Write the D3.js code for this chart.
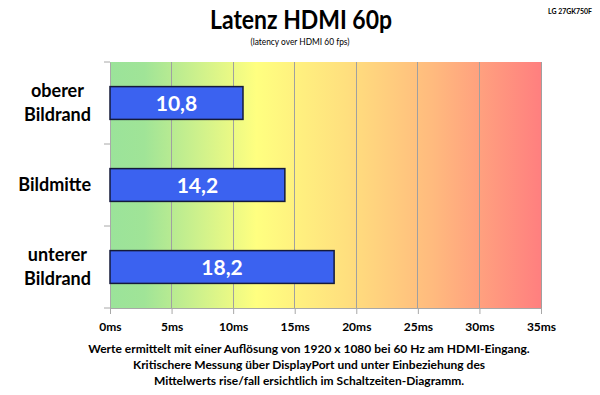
<!DOCTYPE html>
<html><head><meta charset="utf-8">
<script src="https://cdn.jsdelivr.net/npm/d3@7"></script>
<style>body{margin:0;background:#fff}text{font-family:Lato,"Open Sans",sans-serif;font-weight:bold}</style>
</head><body>
<svg id="c" width="600" height="395"></svg>
<script>
const categories = [["oberer","Bildrand"],["Bildmitte"],["unterer","Bildrand"]];
const values = [10.8, 14.2, 18.2];
const valueLabels = ["10,8","14,2","18,2"];
const xTicks = [0,5,10,15,20,25,30,35];
const title = "Latenz HDMI 60p";
const subtitle = "(latency over HDMI 60  fps)";
const model = "LG 27GK750F";
const notes = ["Werte ermittelt mit einer Auflösung von 1920 x 1080 bei 60 Hz am HDMI-Eingang.",
  "Kritischere Messung über DisplayPort und unter Einbeziehung des",
  "Mittelwerts rise/fall ersichtlich im Schaltzeiten-Diagramm."];

const svg = d3.select("#c");
const L=110, R=541, T=62, B=308;
const x = d3.scaleLinear().domain([0,35]).range([L,R]);
const y = d3.scaleBand().domain(d3.range(categories.length)).range([T,B]).paddingInner(0.6).paddingOuter(0.3);
const yb = d3.scaleBand().domain(d3.range(categories.length)).range([T,B]);

const defs = svg.append("defs");
const g = defs.append("linearGradient").attr("id","bg").attr("x1","0").attr("x2","1").attr("y1","0").attr("y2","0");
[[0,"#9be39a"],[0.08,"#a0e497"],[0.34,"#ffff80"],[0.55,"#ffdf7e"],[0.75,"#ffba7e"],[1,"#ff7f7f"]]
 .forEach(([o,c])=>g.append("stop").attr("offset",o).attr("stop-color",c));

svg.append("rect").attr("x",L).attr("y",T).attr("width",R-L).attr("height",B-T).attr("fill","url(#bg)");

// grid
svg.append("g").selectAll("line").data(xTicks.slice(1)).join("line")
  .attr("x1",d=>x(d)).attr("x2",d=>x(d)).attr("y1",T).attr("y2",B)
  .attr("stroke","#a0a0a0").attr("stroke-width",1).attr("shape-rendering","crispEdges");

// x axis
const xa = svg.append("g").attr("transform",`translate(0,${B})`)
  .call(d3.axisBottom(x).tickValues(xTicks).tickFormat(d=>d+"ms").tickSize(6).tickPadding(8));
xa.select(".domain").attr("stroke","#a8a8a8");
xa.selectAll(".tick line").attr("stroke","#a8a8a8");
xa.selectAll("text").attr("font-size",12).attr("fill","#000").style("font-family","Lato").style("font-weight","bold");

// y axis
const ya = svg.append("g").attr("transform",`translate(${L},0)`)
  .call(d3.axisLeft(yb).tickValues([]).tickSize(0));
ya.select(".domain").attr("stroke","#a8a8a8");
svg.append("g").selectAll("line").data([T, ...yb.domain().map(i=>yb(i)+yb.bandwidth())]).join("line")
  .attr("x1",L-6).attr("x2",L).attr("y1",d=>d).attr("y2",d=>d).attr("stroke","#a8a8a8");

// bars
svg.append("g").selectAll("rect").data(values).join("rect")
  .attr("x",x(0)).attr("y",(d,i)=>y(i)).attr("width",d=>x(d)-x(0)).attr("height",y.bandwidth())
  .attr("fill","#3b62f0").attr("stroke","#141a3a").attr("stroke-width",1.5);

svg.append("g").selectAll("text").data(values).join("text")
  .attr("x",d=>(x(0)+x(d))/2).attr("y",(d,i)=>y(i)+y.bandwidth()/2+7.5)
  .attr("text-anchor","middle").attr("fill","#fff").attr("font-size",21)
  .text((d,i)=>valueLabels[i]);

// category labels
categories.forEach((lines,i)=>{
  const cy = yb(i)+yb.bandwidth()/2;
  const t = svg.append("text").attr("font-size",18).attr("fill","#000").attr("text-anchor","middle");
  const lh = 24;
  const spans = lines.map((s,j)=>t.append("tspan").attr("y",cy + (j-(lines.length-1)/2)*lh + 6).text(s));
  const w = d3.max(spans,s=>s.node().getComputedTextLength());
  spans.forEach(s=>s.attr("x",91-w/2));
});

// titles
svg.append("text").attr("x",301).attr("y",29).attr("text-anchor","middle").attr("font-size",26)
  .attr("textLength",182).attr("lengthAdjust","spacingAndGlyphs").text(title);
svg.append("text").attr("x",300).attr("y",45).attr("text-anchor","middle").attr("font-size",9)
  .attr("textLength",99).attr("lengthAdjust","spacingAndGlyphs").style("font-weight","normal").text(subtitle);
svg.append("text").attr("x",548).attr("y",14).attr("font-size",8)
  .attr("textLength",44).attr("lengthAdjust","spacingAndGlyphs").text(model);

svg.append("g").selectAll("text").data(notes).join("text")
  .attr("x",309).attr("y",(d,i)=>353+i*16).attr("text-anchor","middle").attr("font-size",12).text(d=>d);
</script>
</body></html>
